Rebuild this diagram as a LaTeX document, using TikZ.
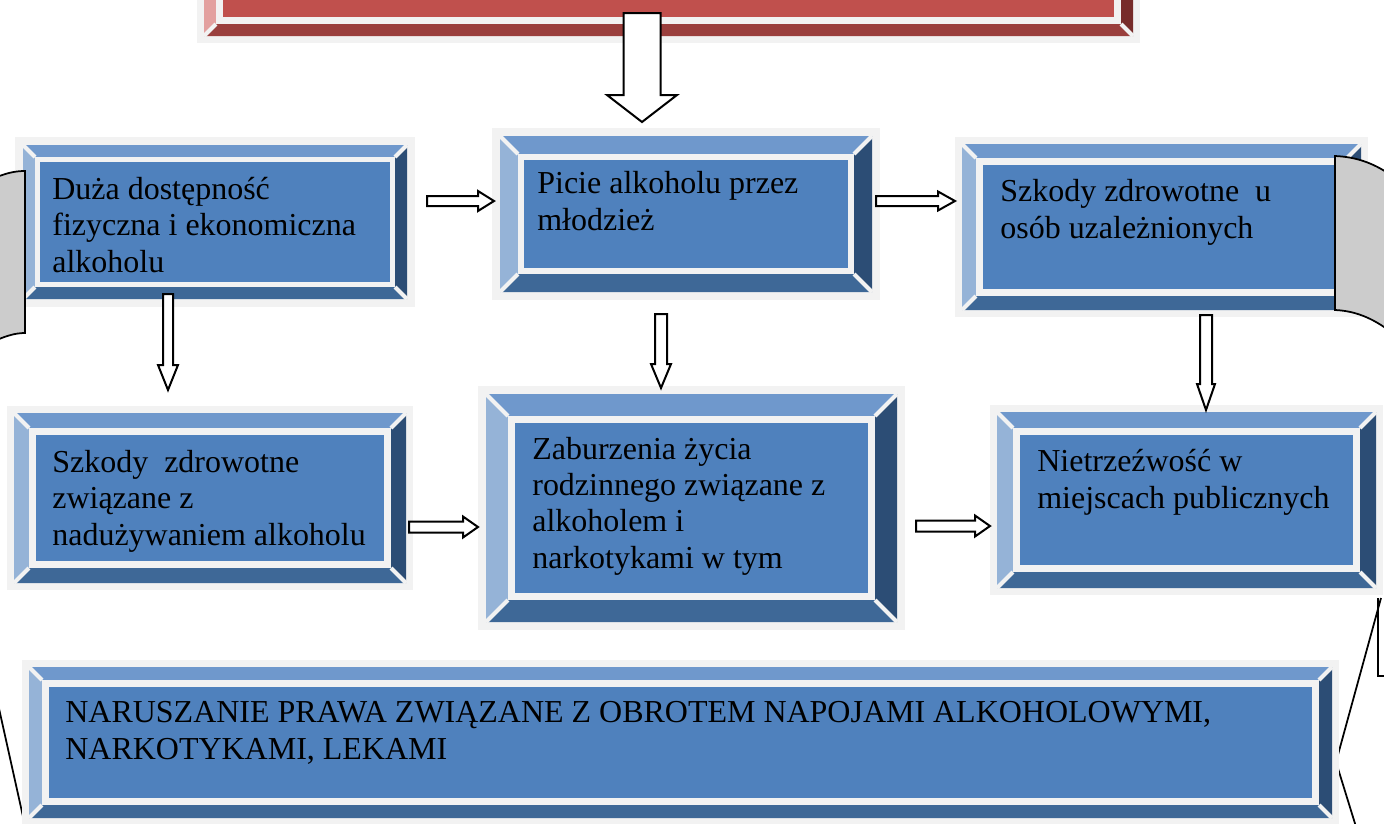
\documentclass[tikz,border=0pt]{standalone}
\usepackage{fontspec}
\setmainfont{Liberation Serif}
\usetikzlibrary{calc,fit}

\definecolor{frameg}{HTML}{F2F2F2}
\definecolor{bface}{HTML}{4F81BD}
\definecolor{btop}{HTML}{6F98CC}
\definecolor{bleft}{HTML}{95B3D7}
\definecolor{bright}{HTML}{2C4D75}
\definecolor{bbot}{HTML}{3E6897}
\definecolor{bshad}{HTML}{8E9FB6}
\definecolor{rface}{HTML}{C0504D}
\definecolor{rtop}{HTML}{D27A78}
\definecolor{rleft}{HTML}{E3A09F}
\definecolor{rright}{HTML}{772C2A}
\definecolor{rbot}{HTML}{9A3F3D}
\definecolor{rshad}{HTML}{B89292}

\tikzset{
  bvpad/.store in=\bvpad, bvwid/.store in=\bvwid, bvgap/.store in=\bvgap,
  bvpad=7, bvwid=14, bvgap=6,
  bbox/.style={fill=frameg, inner sep=0pt, outer sep=0pt,
    preaction={fill=bshad, xshift=0.04cm, yshift=-0.08cm},
    path picture={
      \coordinate (o1) at ($(path picture bounding box.north west)+(\bvpad,\bvpad)$);
      \coordinate (o2) at ($(path picture bounding box.south east)+(-\bvpad,-\bvpad)$);
      \coordinate (i1) at ($(o1)+(\bvwid,\bvwid)$);
      \coordinate (i2) at ($(o2)+(-\bvwid,-\bvwid)$);
      \fill[btop] (o1) -- (o2 |- o1) -- (i2 |- i1) -- (i1) -- cycle;
      \fill[bright] (o2 |- o1) -- (o2) -- (i2) -- (i2 |- i1) -- cycle;
      \fill[bbot] (o2) -- (o1 |- o2) -- (i1 |- i2) -- (i2) -- cycle;
      \fill[bleft] (o1 |- o2) -- (o1) -- (i1) -- (i1 |- i2) -- cycle;
      \draw[frameg, line width=0.08cm] (o1) -- (i1) (o2 |- o1) -- (i2 |- i1)
        (o2) -- (i2) (o1 |- o2) -- (i1 |- i2);
      \fill[frameg] (i1) rectangle (i2);
      \fill[bface] ($(i1)+(\bvgap,\bvgap)$) rectangle ($(i2)+(-\bvgap,-\bvgap)$);
    }},
  redbox/.style={/utils/exec={\colorlet{bface}{rface}\colorlet{btop}{rtop}%
      \colorlet{bleft}{rleft}\colorlet{bright}{rright}\colorlet{bbot}{rbot}%
      \colorlet{bshad}{rshad}}, bbox},
  txt/.style={font=\fontsize{18.2}{20.5}\selectfont, align=left, inner sep=0pt, anchor=base west},
  blk/.style={draw=black, fill=white, line width=0.04cm, line join=miter},
  pics/blkarr/.style n args={4}{code={
      \draw[blk] (0,0) -- (-#4,-#3) -- (-#4,-#2) -- (-#1,-#2) -- (-#1,#2)
        -- (-#4,#2) -- (-#4,#3) -- cycle;}},
  gshape/.style={fill=gray!40, draw=black, line width=0.035cm},
}

\begin{document}
\begin{tikzpicture}[x=0.02cm,y=-0.02cm]
  \path[use as bounding box, clip] (0,0) rectangle (1384,823);

  % lines behind the boxes
  \draw[line width=0.035cm] (1381,598) -- (1336,762) -- (1357,830);
  \draw[line width=0.035cm] (1378,598) -- (1378,676) -- (1390,676);
  \draw[line width=0.035cm] (-4,695) -- (26,830);

  % boxes
  \node[redbox, bvwid=12, bvgap=7, fit={(197,-120) (1140,43)}] (top) {};
  \node[bbox, bvpad=8, bvwid=12, bvgap=5, fit={(15,137) (415,307)}] (dostep) {};
  \node[bbox, bvpad=8, bvwid=18, bvgap=6, fit={(492,128) (880,300)}] (picie) {};
  \node[bbox, bvwid=14, bvgap=7, fit={(955,137) (1368,317)}] (uzal) {};
  \node[bbox, bvwid=15, bvgap=7, fit={(7,406) (413,590)}] (naduz) {};
  \node[bbox, bvpad=8, bvwid=22, bvgap=7, fit={(478,386) (905,630)}] (zaburz) {};
  \node[bbox, bvwid=16, bvgap=7, fit={(990,405) (1383,595)}] (nietrz) {};
  \node[bbox, bvwid=13, bvgap=7, fit={(22,660) (1339,825)}] (narusz) {};

  % arrows
  \pic[rotate=-90] at ($(picie.north west)+(150,-6)$) {blkarr={109}{18.5}{35}{27}};
  \pic[rotate=-90] at ($(naduz.north west)+(161,-16)$) {blkarr={96}{5}{10}{25}};
  \pic[rotate=-90] at ($(zaburz.north west)+(183,2)$) {blkarr={74}{6}{10}{24}};
  \pic[rotate=-90] at ($(nietrz.north west)+(216,5)$) {blkarr={95}{6}{9}{26}};
  \pic at ($(picie.north west)+(2,73)$) {blkarr={67}{5}{10}{16}};
  \pic at ($(uzal.north west)+(0,64)$) {blkarr={79}{5}{9.5}{17}};
  \pic at ($(zaburz.north west)+(0,141)$) {blkarr={69}{5.5}{10.5}{15}};
  \pic at ($(nietrz.north west)+(0,121)$) {blkarr={74}{5.5}{10.5}{15}};

  % gray shapes at the edges
  \draw[gshape] (-10,180) .. controls (5,173) and (15,171) .. (25,171) -- (25,333)
    .. controls (15,333) and (5,336) .. (-10,343) -- cycle;
  \draw[gshape] (1335,156) .. controls (1358,157) and (1376,164) .. (1395,178) -- (1395,335)
    .. controls (1376,320) and (1358,311) .. (1335,310) -- cycle;

  % texts (placed by the baseline of their last line)
  \node[txt] (dostep-t) at (52,272) {Duża dostępność\\fizyczna i ekonomiczna\\alkoholu};
  \node[txt] (picie-t) at (537,230) {Picie alkoholu przez\\młodzież};
  \node[txt] (uzal-t) at (1000,238) {Szkody zdrowotne\ \ u\\osób uzależnionych};
  \node[txt] (naduz-t) at (52,545) {Szkody\ \ zdrowotne\\związane z\\nadużywaniem alkoholu};
  \node[txt] (zaburz-t) at (532,568) {Zaburzenia życia\\rodzinnego związane z\\alkoholem i\\narkotykami w tym};
  \node[txt] (nietrz-t) at (1037,508) {Nietrzeźwość w\\miejscach publicznych};
  \node[txt] (narusz-t) at (65,759) {NARUSZANIE PRAWA ZWIĄZANE Z OBROTEM NAPOJAMI ALKOHOLOWYMI,\\NARKOTYKAMI, LEKAMI};
\end{tikzpicture}
\end{document}
